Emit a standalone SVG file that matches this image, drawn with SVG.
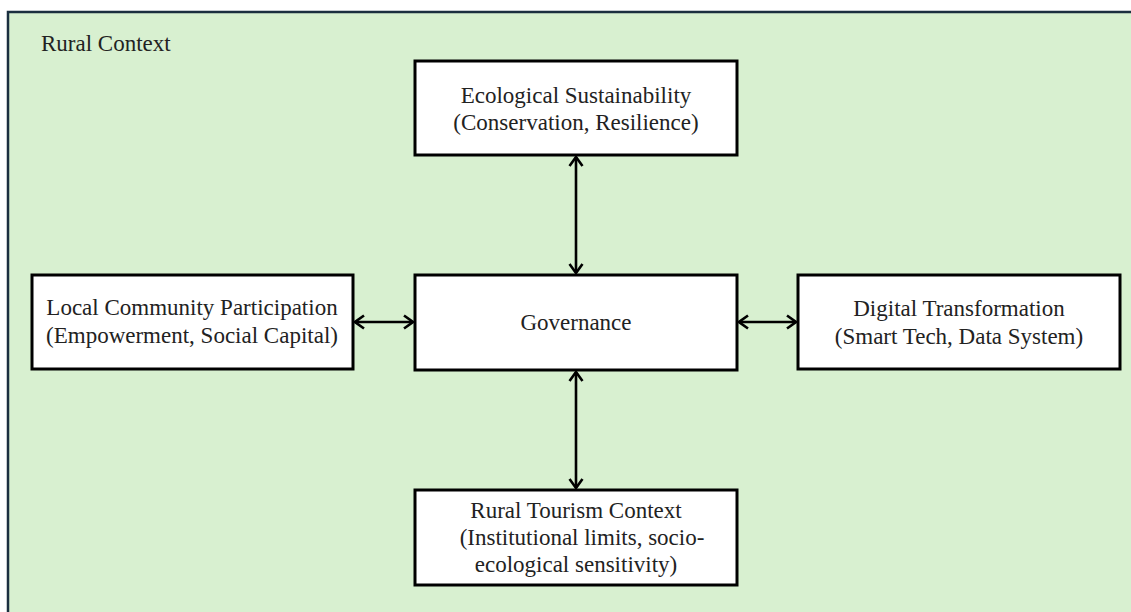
<svg xmlns="http://www.w3.org/2000/svg" width="1131" height="612" viewBox="0 0 1131 612">
<style>
.box{fill:#ffffff;stroke:#000000;stroke-width:3}
.t{font-family:"Liberation Serif","Times New Roman",serif;font-size:23px;fill:#222222;text-anchor:middle}
.conn{stroke:#000000;stroke-width:2.6;fill:none;marker-start:url(#arr);marker-end:url(#arr)}
</style>
<defs>
<marker id="arr" markerUnits="userSpaceOnUse" viewBox="0 0 12 16" refX="10.5" refY="8" markerWidth="12" markerHeight="16" orient="auto-start-reverse">
<path d="M1.5,1.5 L10.5,8 L1.5,14.5" fill="none" stroke="#000000" stroke-width="2.6"/>
</marker>
</defs>
<rect width="1131" height="612" fill="#ffffff"/>
<g id="rural-context">
<rect x="8" y="12" width="1130" height="610" fill="#d8f0d0" stroke="#1b2f3f" stroke-width="2.5"/>
<text x="41" y="51" class="t" style="text-anchor:start">Rural Context</text>
</g>
<g id="connectors">
<line class="conn" x1="576" y1="157" x2="576" y2="273"/>
<line class="conn" x1="576" y1="372" x2="576" y2="488"/>
<line class="conn" x1="355" y1="322" x2="413" y2="322"/>
<line class="conn" x1="739" y1="322" x2="796" y2="322"/>
</g>
<g id="ecological">
<rect class="box" x="415" y="61" width="322" height="94"/>
<text class="t" x="576" y="103">Ecological Sustainability</text>
<text class="t" x="576" y="130">(Conservation, Resilience)</text>
</g>
<g id="governance">
<rect class="box" x="415" y="275" width="322" height="95"/>
<text class="t" x="576" y="330">Governance</text>
</g>
<g id="community">
<rect class="box" x="32" y="275" width="321" height="94"/>
<text class="t" x="192" y="315">Local Community Participation</text>
<text class="t" x="192" y="343">(Empowerment, Social Capital)</text>
</g>
<g id="digital">
<rect class="box" x="798" y="275" width="322" height="94"/>
<text class="t" x="959" y="316">Digital Transformation</text>
<text class="t" x="959" y="344">(Smart Tech, Data System)</text>
</g>
<g id="tourism">
<rect class="box" x="415" y="490" width="322" height="95"/>
<text class="t" x="576" y="518">Rural Tourism Context</text>
<text class="t" x="582" y="545">(Institutional limits, socio-</text>
<text class="t" x="576" y="572">ecological  sensitivity)</text>
</g>
</svg>
